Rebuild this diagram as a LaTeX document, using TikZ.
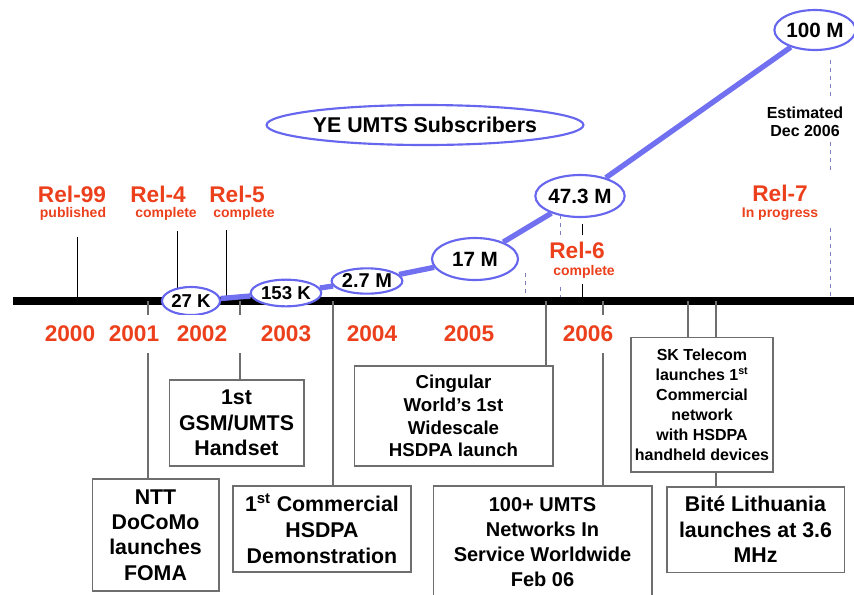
\documentclass[tikz,border=0pt]{standalone}
\usepackage{fontspec}
\setmainfont{Liberation Sans}
\usepackage{tikz}
\usetikzlibrary{
	shapes.geometric,
}
\definecolor{relred}{RGB}{236,64,28}
\definecolor{subblue}{RGB}{102,102,238}
\definecolor{trendblue}{RGB}{112,112,240}
\definecolor{boxgray}{RGB}{110,110,110}
\definecolor{dashblue}{RGB}{128,128,192}
\tikzset{
	year/.style={font=\bfseries\fontsize{17}{17}\selectfont, text=relred, fill=white, inner xsep=2pt, inner ysep=8pt},
	rel/.style={font=\bfseries\fontsize{17}{17}\selectfont, text=relred, inner sep=1pt},
	relnote/.style={font=\bfseries\fontsize{10.5}{10.5}\selectfont, text=relred, inner sep=1pt},
	subs/.style={ellipse, draw=subblue, line width=1.6pt, fill=white, inner sep=0pt, font=\bfseries\fontsize{15.5}{15.5}\selectfont},
	trend/.style={trendblue, line width=4pt},
	event/.style={draw=boxgray, line width=1pt, fill=white, align=center, inner sep=1pt},
	link/.style={boxgray, line width=0.8pt},
	tick/.style={black, line width=0.6pt},
	relgap/.style={dashblue, dashed, line width=0.6pt},
}

\begin{document}
\begin{tikzpicture}[x=0.75pt,y=-0.75pt]
	\useasboundingbox (0,0) rectangle (854,594);
	\clip (0,0) rectangle (854,594);

	\coordinate (barL) at (13,301);
	\coordinate (barR) at (854,301);

	\coordinate (t99) at (77,237);
	\coordinate (t4)  at (177,231);
	\coordinate (t5)  at (226,230);
	\coordinate (t6)  at (582,224);
	\draw[tick] (t99) -- (t99 |- barL);
	\draw[tick] (t4) -- (t4 |- barL);
	\draw[tick] (t5) -- (t5 |- barL);
	\draw[tick] (t6) -- (t6 |- barL);

	\coordinate (d1) at (525,273);
	\coordinate (d2) at (560,215);
	\draw[relgap] (d1) -- (d1 |- barL);
	\draw[relgap] (d2) -- (d2 |- barL);

	\coordinate (e1) at (830,60);
	\coordinate (e2) at (830,97);
	\coordinate (e3) at (830,142);
	\coordinate (e4) at (830,173);
	\coordinate (e5) at (830,228);
	\draw[relgap] (e1) -- (e2);
	\draw[relgap] (e3) -- (e4);
	\draw[relgap] (e5) -- (e5 |- barL);

	\draw[line width=6pt] (barL) -- (barR);

	\node[subs, minimum width=43.5pt, minimum height=21pt, font=\bfseries\fontsize{14}{14}\selectfont] (k27) at (191,301) {27 K};
	\node[subs, minimum width=46.5pt, minimum height=20pt, font=\bfseries\fontsize{14}{14}\selectfont] (k153) at (286,293) {153 K};
	\node[subs, minimum width=52.5pt, minimum height=19pt, font=\bfseries\fontsize{15}{15}\selectfont] (m2) at (367,281) {2.7 M};
	\node[subs, minimum width=64.5pt, minimum height=31.5pt] (m17) at (475,259) {17 M};
	\node[subs, minimum width=64pt, minimum height=31.5pt] (m47) at (580,196) {47.3 M};
	\node[subs, minimum width=55pt, minimum height=30pt] (m100) at (815,30) {100 M};

	\draw[trend] (k27) -- (k153);
	\draw[trend] (k153) -- (m2);
	\draw[trend] (m2) -- (m17);
	\draw[trend] (m17) -- (m47);
	\draw[trend] (m47) -- (m100);

	\node[subs, minimum width=195pt, minimum height=30pt, font=\bfseries\fontsize{16}{16}\selectfont] (ye) at (425,125) {YE UMTS Subscribers};

	\node[align=center, font=\bfseries\fontsize{12}{13.5}\selectfont] (est) at (805,122) {Estimated\\Dec 2006};

	\node[event, minimum width=101pt, minimum height=64.5pt, font=\bfseries\fontsize{16}{19}\selectfont] (hand) at (236.5,423) {1st\\GSM/UMTS\\Handset};
	\node[event, minimum width=95pt, minimum height=84pt, font=\bfseries\fontsize{16}{19}\selectfont] (ntt) at (155.5,535) {NTT\\DoCoMo\\launches\\FOMA};
	\node[event, minimum width=133.5pt, minimum height=64.5pt, font=\bfseries\fontsize{16}{19.5}\selectfont] (demo) at (322,529) {1\textsuperscript{st} Commercial\\HSDPA\\Demonstration};
	\node[event, minimum width=149pt, minimum height=75pt, font=\bfseries\fontsize{14}{17}\selectfont] (cing) at (453.5,416) {Cingular\\World’s 1st\\Widescale\\HSDPA launch};
	\node[event, minimum width=164pt, minimum height=84pt, font=\bfseries\fontsize{15}{18.75}\selectfont] (feb) at (542.5,542) {100+ UMTS\\Networks In\\Service Worldwide\\Feb 06};
	\node[event, minimum width=106.5pt, minimum height=101pt, font=\bfseries\fontsize{12}{15}\selectfont] (sk) at (702,404.5) {SK Telecom\\launches 1\textsuperscript{st}\\Commercial\\network\\with HSDPA\\handheld devices};
	\node[event, minimum width=133pt, minimum height=64pt, font=\bfseries\fontsize{16}{19}\selectfont] (bite) at (755.5,529.5) {Bité Lithuania\\launches at 3.6\\MHz};

	\coordinate (l01)  at (148,301);
	\coordinate (l02)  at (240,301);
	\coordinate (l04)  at (333,301);
	\coordinate (l05)  at (546,301);
	\coordinate (l06)  at (603,301);
	\coordinate (l07a) at (688,301);
	\coordinate (l07b) at (716,301);
	\draw[link] (l01) -- (l01 |- ntt.north);
	\draw[link] (l02) -- (l02 |- hand.north);
	\draw[link] (l04) -- (l04 |- demo.north);
	\draw[link] (l05) -- (l05 |- cing.north);
	\draw[link] (l06) -- (l06 |- feb.north);
	\draw[link] (l07a) -- (l07a |- sk.north);
	\draw[link] (l07b) -- (l07b |- sk.north);
	\draw[link] (l07b |- sk.south) -- (l07b |- bite.north);

	\node[year] (y00) at (70,334) {2000};
	\node[year] (y01) at (134,334) {2001};
	\node[year, minimum width=60pt] (y02) at (202,334) {2002};
	\node[year] (y03) at (286,334) {2003};
	\node[year] (y04) at (372,334) {2004};
	\node[year] (y05) at (469,334) {2005};
	\node[year] (y06) at (588,334) {2006};

	\node[rel] (r99) at (72,194) {Rel-99};
	\node[relnote] (r99n) at (73,214) {published};
	\node[rel] (r4) at (158,194) {Rel-4};
	\node[relnote] (r4n) at (166,214) {complete};
	\node[rel] (r5) at (237,194) {Rel-5};
	\node[relnote] (r5n) at (244,214) {complete};
	\node[rel, fill=white, inner ysep=5pt] (r6) at (577,250) {Rel-6};
	\node[relnote, fill=white, inner ysep=4pt] (r6n) at (584,272) {complete};
	\node[rel] (r7) at (780,193) {Rel-7};
	\node[relnote] (r7n) at (780,214) {In progress};
\end{tikzpicture}
\end{document}
